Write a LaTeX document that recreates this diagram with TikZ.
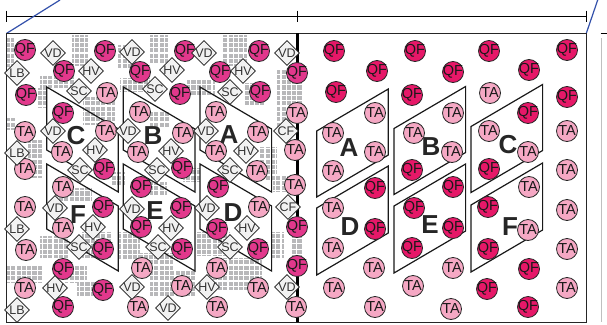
\documentclass[tikz,border=0pt]{standalone}
\usepackage{fontspec}
\setmainfont{Liberation Sans}
\usepackage{tikz}
\usetikzlibrary{shapes,positioning,calc}

\definecolor{qfleft}{RGB}{226,56,140}
\definecolor{qfright}{RGB}{230,24,104}
\definecolor{tapink}{RGB}{245,168,196}
\definecolor{dialight}{RGB}{242,242,242}
\definecolor{blockgrey}{RGB}{184,184,186}
\definecolor{edgeblue}{RGB}{50,80,170}

\begin{document}
\begin{tikzpicture}[x=1pt,y=-1pt,
    cell/.style={circle,draw=black!85,line width=0.8pt,minimum size=21pt,inner sep=0pt},
    celltext/.style={inner sep=0pt,font=\fontsize{14.5}{14.5}\selectfont,text=black!90},
    qfl/.style={cell,fill=qfleft,label={[celltext]center:QF}},
    qfr/.style={cell,fill=qfright,label={[celltext]center:QF}},
    ta/.style={cell,fill=tapink,label={[celltext]center:TA}},
    diatext/.style={inner sep=0pt,font=\fontsize{12.5}{12.5}\selectfont,text=black!80},
    dia/.style={diamond,draw=black!90,line width=0.8pt,fill=dialight,minimum size=25pt,inner sep=0pt,label={[diatext]center:#1}},
    region/.style={font=\fontsize{26}{26}\bfseries\selectfont,text=black!85},
    zone/.style={draw=black!90,line width=1.2pt}]
    \useasboundingbox (0,0) rectangle (607,324);

    % grey blocks (left panel)
    \foreach \a/\b/\c/\d in {7/37/14/67, 72/35/88/66, 150/35/168/64, 223/35/247/66,
        40/76/75/88, 118/45/133/70, 120/78/150/92, 187/80/215/95, 38/88/48/108,
        83/97/115/125, 150/112/170/127, 245/83/265/107, 277/68/291/130, 5/118/15/130,
        28/140/43/178, 112/172/125/186, 183/168/200/182, 260/147/277/180, 273/175/288/192,
        55/188/92/202, 150/182/167/195, 40/236/70/258, 82/232/112/258, 118/232/140/260,
        137/253/173/273, 197/232/230/256, 270/232/284/258, 65/264/87/283, 77/280/112/297,
        150/270/195/297, 213/258/262/290, 7/266/42/283, 292/82/303/104, 292/234/303/258}
        \fill[blockgrey] (\a,\b) rectangle (\c,\d);
    \draw[white,line width=1.2pt,step=5.3pt] (5,322) grid (305,33);

    % scale bar and guide lines
    \draw[line width=1pt] (6.7,16) -- (586.3,16);
    \draw[line width=1pt] (6.7,10.5) -- (6.7,21.5) (297.5,10.5) -- (297.5,21.5) (586.3,10.5) -- (586.3,21.5);
    \draw[edgeblue,line width=1.2pt] (6.7,33.3) -- (60,0);
    \draw[edgeblue,line width=1.2pt] (586.3,33.3) -- (597.7,0);
    \draw[line width=1pt] (600.7,33.3) -- (607,33.3);
    \draw[black!25,line width=0.8pt] (601.7,38) -- (601.7,322);

    % frame and divider
    \draw[line width=1.3pt,black!85] (6.7,33.3) rectangle (586.3,322.7);
    \draw[line width=3.5pt] (297.7,33) -- (297.7,82) (297.7,104) -- (297.7,234) (297.7,258) -- (297.7,322);

    % zones, left panel
    \foreach \x in {46.7,123.3,200} {
        \draw[zone] (\x,87) -- ++(71.6,42) -- ++(0,63) -- (\x,150) -- cycle;
        \draw[zone] (\x,164) -- ++(71.6,42) -- ++(0,65) -- (\x,229) -- cycle;
    }
    % zones, right panel
    \foreach \x/\y in {316.7/131, 394/128.5, 471/126.5}
        \draw[zone] (\x,\y) -- ++(71.6,-42) -- ++(0,66) -- ++(-71.6,42) -- cycle;
    \foreach \x/\y in {316.7/208, 394/206, 471/205}
        \draw[zone] (\x,\y) -- ++(71.6,-42) -- ++(0,67) -- ++(-71.6,42) -- cycle;

    % zone letters
    \node[region] (lC) at (76,136) {C};
    \node[region] (lB) at (153,136) {B};
    \node[region] (lA) at (229,135) {A};
    \node[region] (lF) at (78,215) {F};
    \node[region] (lE) at (155,211) {E};
    \node[region] (lD) at (233,213) {D};
    \node[region] (rA) at (349,148) {A};
    \node[region] (rB) at (431,147) {B};
    \node[region] (rC) at (508,145) {C};
    \node[region] (rD) at (350,227) {D};
    \node[region] (rE) at (430,225) {E};
    \node[region] (rF) at (510,227) {F};

    % left panel cells
    \foreach \x/\y [count=\i] in {25/50, 105/51, 185/51, 259/51, 64/71, 140/72, 220/72, 26/95,
        180/94, 260/92, 63/113, 104/169, 182/168, 218/187, 141/187, 103/207, 181/208,
        141/227, 217/229, 103/249, 182/249, 258/249, 63/269, 103/290, 63/307,
        297/73, 297/227, 297/266}
        \node[qfl] (lqf\i) at (\x,\y) {};
    \foreach \x/\y [count=\i] in {107/93, 140/112, 216/112, 25/132, 106/131, 183/133, 258/132,
        62/152, 138/152, 216/151, 25/169, 257/171, 63/187, 25/207, 259/207, 63/228,
        26/250, 142/268, 217/268, 25/288, 182/286, 258/288, 138/307, 217/307,
        297/113, 295/150, 295/185, 296/307}
        \node[ta] (lta\i) at (\x,\y) {};
    \foreach \x/\y [count=\i] in {53/53, 132/52, 204/53, 287/53, 53/131, 128/131, 206/131,
        55/208, 132/209, 207/208, 132/287, 168/308, 287/287}
        \node[dia=VD] (vd\i) at (\x,\y) {};
    \foreach \x/\y [count=\i] in {91/71, 172/70, 243/71, 95/150, 171/151, 246/151,
        93/227, 171/228, 247/228, 55/288, 207/287}
        \node[dia=HV] (hv\i) at (\x,\y) {};
    \foreach \x/\y [count=\i] in {79/91, 155/89, 230/92, 80/170, 157/170, 230/170,
        79/247, 158/247, 230/247}
        \node[dia=SC] (sc\i) at (\x,\y) {};
    \foreach \x/\y [count=\i] in {17/73, 17/153, 17/229, 17/310}
        \node[dia=LB] (lb\i) at (\x,\y) {};
    \foreach \x/\y [count=\i] in {286/131, 288/207}
        \node[dia=CF] (cf\i) at (\x,\y) {};

    % right panel cells
    \foreach \x/\y [count=\i] in {334/51, 415/51, 489/51, 567/50, 377/71, 453/72, 529/70,
        336/92, 412/95, 567/97, 528/113, 412/170, 489/169, 375/188, 453/187, 414/208,
        488/207, 375/229, 453/228, 412/248, 488/249, 529/269, 487/289, 528/307}
        \node[qfr] (rqf\i) at (\x,\y) {};
    \foreach \x/\y [count=\i] in {490/93, 375/113, 453/113, 333/133, 414/133, 489/131, 567/131,
        375/152, 452/152, 528/152, 333/171, 567/170, 529/187, 333/208, 567/210, 528/230,
        333/248, 567/249, 374/268, 453/268, 334/288, 413/286, 567/288, 375/307, 451/309}
        \node[ta] (rta\i) at (\x,\y) {};
\end{tikzpicture}
\end{document}
